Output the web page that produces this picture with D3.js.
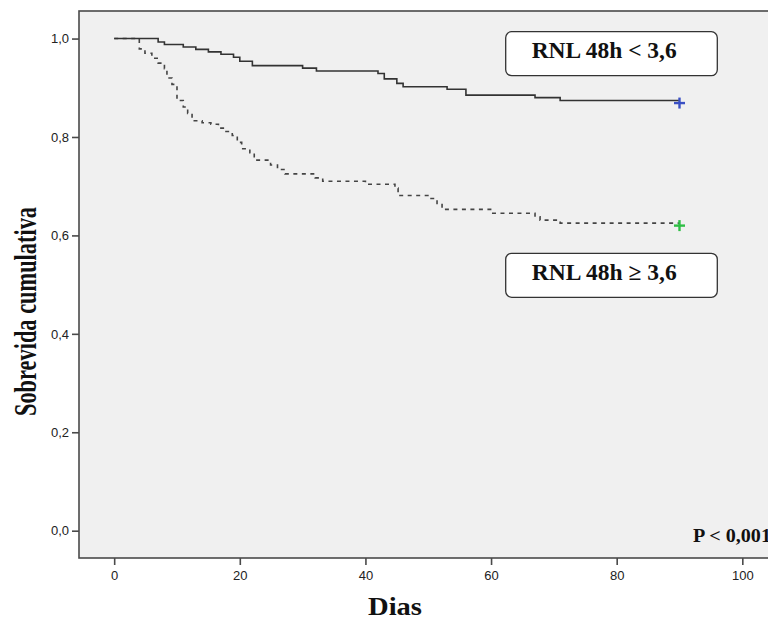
<!DOCTYPE html>
<html>
<head>
<meta charset="utf-8">
<script src="https://cdn.jsdelivr.net/npm/d3@7"></script>
<style>
  body { margin: 0; background: #fff; }
  svg { display: block; }
</style>
</head>
<body>
<div class="km"></div>
<script>
// Kaplan-Meier: RNL 48h < 3,6 (solid) vs RNL 48h >= 3,6 (dashed)
const lowTimes = [0, 7, 8, 11, 13, 15, 17, 19, 20, 22, 30, 32.2, 42, 43, 45, 46, 53, 56, 67, 71, 90];
const lowSurv = [1.0, 0.993, 0.988, 0.983, 0.978, 0.973, 0.968, 0.962, 0.954, 0.945, 0.940, 0.934, 0.929, 0.918, 0.909, 0.902, 0.897, 0.885, 0.880, 0.874, 0.874];

const highTimes = [0, 4, 4.9, 6, 7, 8, 8.4, 9.2, 10, 11, 11.7, 12.4, 14, 15.4, 16.6, 17.8, 18.8, 19.6, 20.3, 21.6, 22.3, 24.9, 26, 27.2, 32, 33.2, 40, 44.7, 45.2, 50.2, 51.4, 52.2, 60.1, 67, 67.8, 71, 90];
const highSurv = [1.0, 0.979, 0.970, 0.960, 0.950, 0.939, 0.920, 0.907, 0.874, 0.861, 0.848, 0.833, 0.829, 0.826, 0.818, 0.811, 0.803, 0.789, 0.776, 0.768, 0.753, 0.743, 0.734, 0.725, 0.717, 0.710, 0.704, 0.696, 0.681, 0.675, 0.665, 0.653, 0.645, 0.638, 0.631, 0.625, 0.625];

const xTicks = [0, 20, 40, 60, 80, 100];
const yTicks = [0, 0.2, 0.4, 0.6, 0.8, 1.0];
const groupLabels = ['RNL 48h < 3,6', 'RNL 48h \u2265 3,6'];
const pLabel = 'P < 0,001';

const svg = d3.select('.km').append('svg')
  .attr('width', 768).attr('height', 620);

const plotLeft = 79, plotTop = 11, plotBottom = 558, plotRight = 780;

const x = d3.scaleLinear().domain([-5.6, 106]).range([plotLeft, plotRight]);
const y = d3.scaleLinear().domain([-0.0555, 1.056]).range([plotBottom, plotTop]);

const fmt = function(d) { return d3.format('.1f')(d).replace('.', ','); };

// plot area
svg.append('rect')
  .attr('x', plotLeft).attr('y', plotTop)
  .attr('width', plotRight - plotLeft).attr('height', plotBottom - plotTop)
  .attr('fill', '#f0f0f0')
  .attr('stroke', '#4a4a4a').attr('stroke-width', 1.6);

// axes
const xAxis = svg.append('g')
  .attr('transform', 'translate(0,' + plotBottom + ')')
  .call(d3.axisBottom(x).tickValues(xTicks).tickSize(7).tickPadding(6));
const yAxis = svg.append('g')
  .attr('transform', 'translate(' + plotLeft + ',0)')
  .call(d3.axisLeft(y).tickValues(yTicks).tickFormat(fmt).tickSize(7).tickPadding(3));

[xAxis, yAxis].forEach(function(a) {
  a.select('.domain').remove();
  a.selectAll('line').attr('stroke', '#4a4a4a').attr('stroke-width', 1.6);
  a.selectAll('text')
    .attr('fill', '#222')
    .style('font-family', '"Liberation Sans", Arial, sans-serif')
    .style('font-size', '13px');
});

// curves
const line = d3.line()
  .x(function(d) { return x(d[0]); })
  .y(function(d) { return y(d[1]); })
  .curve(d3.curveStepAfter);

const low = d3.zip(lowTimes, lowSurv);
const high = d3.zip(highTimes, highSurv);

svg.append('path')
  .datum(high)
  .attr('d', line)
  .attr('fill', 'none')
  .attr('stroke', '#444')
  .attr('stroke-width', 1.6)
  .attr('stroke-dasharray', '4,4.5');

svg.append('path')
  .datum(low)
  .attr('d', line)
  .attr('fill', 'none')
  .attr('stroke', '#333')
  .attr('stroke-width', 1.6);

// censor marks at end
const ends = [
  { t: lowTimes[lowTimes.length - 1], s: lowSurv[lowSurv.length - 1], c: '#3a50c4' },
  { t: highTimes[highTimes.length - 1], s: highSurv[highSurv.length - 1], c: '#2fbf45' }
];
ends.forEach(function(e) {
  const g = svg.append('g')
    .attr('transform', 'translate(' + x(e.t) + ',' + (y(e.s) + 2.5) + ')');
  g.append('line').attr('x1', -5.5).attr('x2', 5.5).attr('y1', 0).attr('y2', 0)
    .attr('stroke', e.c).attr('stroke-width', 2.4);
  g.append('line').attr('x1', 0).attr('x2', 0).attr('y1', -5.5).attr('y2', 5.5)
    .attr('stroke', e.c).attr('stroke-width', 2.4);
});

// legend boxes
const serif = '"Liberation Serif", "Times New Roman", serif';
const boxes = [
  { label: groupLabels[0], y0: 31.7 },
  { label: groupLabels[1], y0: 253.3 }
];
boxes.forEach(function(b) {
  svg.append('rect')
    .attr('x', 505.7).attr('y', b.y0)
    .attr('width', 211.6).attr('height', 44)
    .attr('rx', 6).attr('ry', 6)
    .attr('fill', '#fff')
    .attr('stroke', '#333').attr('stroke-width', 1.3);
  svg.append('text')
    .attr('x', 531.7).attr('y', b.y0 + 26.6)
    .attr('textLength', 145).attr('lengthAdjust', 'spacingAndGlyphs')
    .style('font-family', serif).style('font-weight', 'bold').style('font-size', '23px')
    .attr('fill', '#111')
    .text(b.label);
});

svg.append('text')
  .attr('x', 693).attr('y', 542.3)
  .attr('textLength', 78).attr('lengthAdjust', 'spacingAndGlyphs')
  .style('font-family', serif).style('font-weight', 'bold').style('font-size', '18px')
  .attr('fill', '#111')
  .text(pLabel);

// axis titles
svg.append('text')
  .attr('x', 368).attr('y', 614.5)
  .attr('textLength', 54).attr('lengthAdjust', 'spacingAndGlyphs')
  .style('font-family', serif).style('font-weight', 'bold').style('font-size', '25px')
  .attr('fill', '#111')
  .text('Dias');

svg.append('text')
  .attr('transform', 'translate(35.5,311.5) rotate(-90) scale(1,1.35)')
  .attr('text-anchor', 'middle')
  .attr('textLength', 209).attr('lengthAdjust', 'spacingAndGlyphs')
  .style('font-family', serif).style('font-weight', 'bold').style('font-size', '23px')
  .attr('fill', '#111')
  .text('Sobrevida cumulativa');
</script>
</body>
</html>
